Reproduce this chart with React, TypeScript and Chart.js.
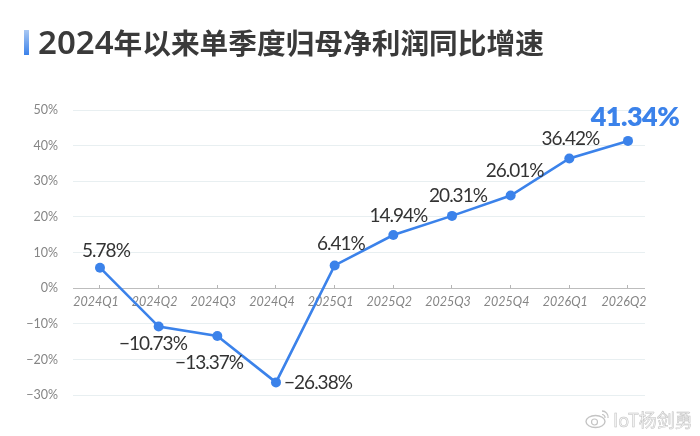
import React, { useEffect, useRef } from "react";
import { Chart, registerables } from "chart.js";

Chart.register(...registerables);

const categories = ["2024Q1", "2024Q2", "2024Q3", "2024Q4", "2025Q1", "2025Q2", "2025Q3", "2025Q4", "2026Q1", "2026Q2"];
const growth = [5.78, -10.73, -13.37, -26.38, 6.41, 14.94, 20.31, 26.01, 36.42, 41.34];
const valueLabels = ["5.78%", "−10.73%", "−13.37%", "−26.38%", "6.41%", "14.94%", "20.31%", "26.01%", "36.42%", "41.34%"];
const labelDx = [6, -5.7, -8.3, 42, 6.3, 5, 6, 4, 1, 7];
const labelDy = [-17, 17, 27, 0, -22, -19, -20, -25, -20, -24];

const BLUE = "#3b82ea";
const FONT = "Lato, 'Noto Sans', sans-serif";

const valueLabelPlugin = {
  id: "valueLabels",
  afterDatasetsDraw(chart: any) {
    const { ctx } = chart;
    const pts = chart.getDatasetMeta(0).data;
    ctx.save();
    ctx.textAlign = "center";
    ctx.textBaseline = "middle";
    pts.forEach((p: any, i: number) => {
      const last = i === pts.length - 1;
      ctx.font = last ? `800 27px ${FONT}` : `400 19px ${FONT}`;
      ctx.letterSpacing = last ? "-0.5px" : "-1px";
      ctx.fillStyle = last ? BLUE : "#333333";
      ctx.fillText(valueLabels[i], p.x + labelDx[i], p.y + labelDy[i]);
    });
    ctx.restore();
  },
};

export default function App() {
  const ref = useRef<HTMLCanvasElement>(null);
  useEffect(() => {
    document.body.style.margin = "0";
    document.body.style.background = "#ffffff";
    const chart = new Chart(ref.current!, {
      type: "line",
      data: {
        datasets: [
          {
            data: growth.map((y, x) => ({ x, y })),
            borderColor: BLUE,
            backgroundColor: BLUE,
            borderWidth: 2.6,
            pointRadius: 5,
            pointBackgroundColor: BLUE,
            pointBorderWidth: 0,
            tension: 0,
            clip: false,
          },
        ],
      },
      options: {
        responsive: false,
        animation: false,
        devicePixelRatio: 1,
        layout: { padding: { top: 110, bottom: 40.7, right: 55, left: 0 } },
        plugins: { legend: { display: false }, tooltip: { enabled: false } },
        scales: {
          x: {
            type: "linear",
            position: { y: 0 },
            min: -0.46,
            max: 9.29,
            afterBuildTicks: (s: any) => {
              s.ticks = categories.map((_, i) => ({ value: i }));
            },
            border: { display: false },
            grid: {
              drawOnChartArea: false,
              drawTicks: true,
              tickLength: -3,
              tickColor: "#b5b5b5",
              tickWidth: 1,
            },
            ticks: {
              autoSkip: false,
              maxRotation: 0,
              padding: 9,
              labelOffset: -4,
              color: "#858585",
              font: { family: FONT, size: 12.5, style: "italic" },
              callback: (v: any) => categories[v as number],
            },
          },
          y: {
            min: -30,
            max: 50,
            afterFit: (s: any) => {
              s.width = 73;
            },
            border: { display: false },
            grid: {
              drawTicks: false,
              lineWidth: 1,
              color: (c: any) => (c.tick.value === 0 ? "#bdbdbd" : "#e8eff1"),
            },
            ticks: {
              stepSize: 10,
              padding: 15,
              color: "#858585",
              font: { family: FONT, size: 12.5 },
              callback: (v: any) => `${v < 0 ? "−" + -v : v}%`,
            },
          },
        },
      } as any,
      plugins: [valueLabelPlugin],
    });
    return () => chart.destroy();
  }, []);

  return (
    <div style={{ position: "relative", width: 700, height: 436, overflow: "hidden", background: "#fff" }}>
      <canvas ref={ref} width={700} height={436} style={{ position: "absolute", left: 0, top: 0, width: 700, height: 436 }} />
      <div
        style={{
          position: "absolute",
          left: 24,
          top: 30,
          width: 5,
          height: 25,
          background: "linear-gradient(180deg,#a9c8f3,#3b82ea)",
        }}
      />
      <div
        style={{
          position: "absolute",
          left: 38,
          top: 22,
          height: 40,
          lineHeight: "40px",
          whiteSpace: "nowrap",
          color: "#3a3a3a",
          fontWeight: 700,
          fontSize: 28.7,
          fontFamily: "'Noto Sans CJK SC', sans-serif",
        }}
      >
        <span style={{ fontFamily: "'Noto Sans', sans-serif", fontSize: 33, fontWeight: 600 }}>2024</span>
        年以来单季度归母净利润同比增速
      </div>
      <div
        style={{
          position: "absolute",
          left: 585,
          top: 408,
          height: 22,
          display: "flex",
          alignItems: "center",
          gap: 3,
          whiteSpace: "nowrap",
          color: "#f4f4f4",
          WebkitTextStroke: "0.5px #bfbfbf",
          fontSize: 18,
          fontFamily: "'Noto Sans CJK SC', sans-serif",
        } as any}
      >
        <svg width="25" height="20" viewBox="0 0 25 20">
          <ellipse cx="10.5" cy="12.5" rx="9.5" ry="6" fill="#fff" stroke="#c4c4c4" strokeWidth="1.4" />
          <circle cx="9.5" cy="13" r="3" fill="none" stroke="#c4c4c4" strokeWidth="1.2" />
          <path d="M17 2 a6 6 0 0 1 6 7" fill="none" stroke="#c4c4c4" strokeWidth="1.3" />
          <path d="M17 5.5 a3 3 0 0 1 3 3.5" fill="none" stroke="#c4c4c4" strokeWidth="1.2" />
        </svg>
        <span>IoT杨剑勇</span>
      </div>
    </div>
  );
}
